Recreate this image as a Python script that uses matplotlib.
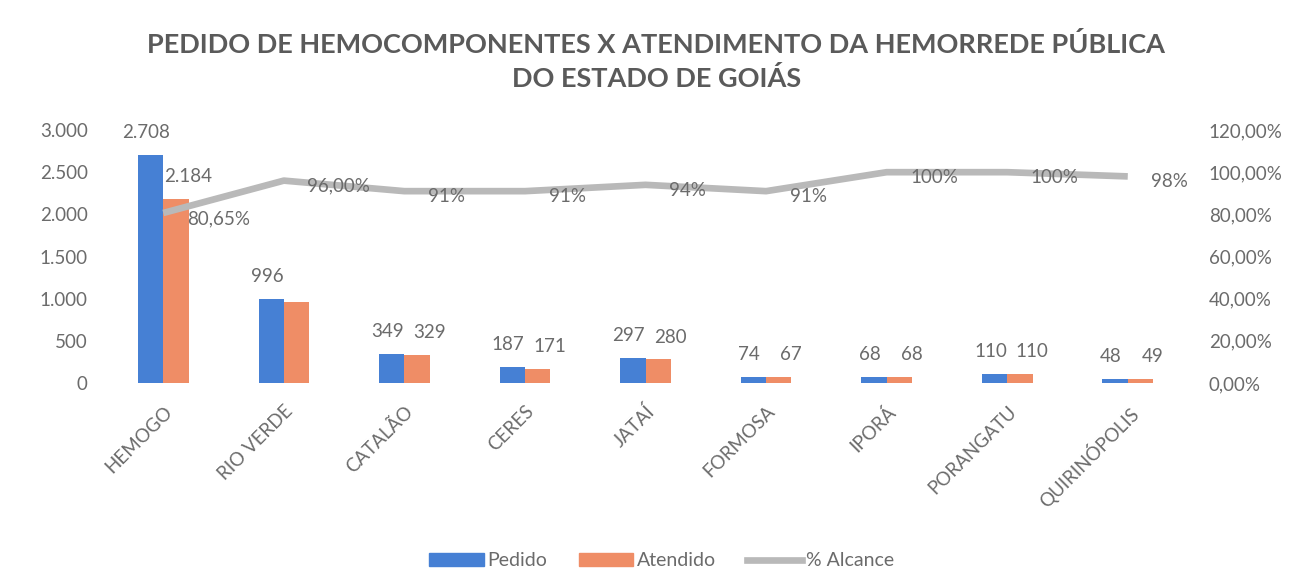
import matplotlib
matplotlib.use("Agg")
import matplotlib.pyplot as plt
import numpy as np
from matplotlib.patches import Patch
from matplotlib.lines import Line2D

categories = ["HEMOGO", "RIO VERDE", "CATALÃO", "CERES", "JATAÍ", "FORMOSA", "IPORÁ", "PORANGATU", "QUIRINÓPOLIS"]
pedido = [2708, 996, 349, 187, 297, 74, 68, 110, 48]
atendido = [2184, 956, 329, 171, 280, 67, 68, 110, 49]
atendido_shown = [True, False, True, True, True, True, True, True, True]
alcance = [0.8065, 0.96, 0.91, 0.91, 0.94, 0.91, 1.00, 1.00, 0.98]
alcance_labels = ["80,65%", "96,00%", "91%", "91%", "94%", "91%", "100%", "100%", "98%"]
left_ticks = [0, 500, 1000, 1500, 2000, 2500, 3000]
right_ticks = [0, 0.2, 0.4, 0.6, 0.8, 1.0, 1.2]

FONT = ["Lato", "DejaVu Sans"]
plt.rcParams['font.family'] = FONT
TXT = "#6b6b6b"
BLUE = "#4680d4"
ORANGE = "#ef8d66"
GREY = "#b9b9b9"
FS = 13.5

def fmt_thousands(v):
    return f"{int(v):,}".replace(",", ".")

fig = plt.figure(figsize=(12.97, 5.71), dpi=100)
ax = fig.add_axes([0.0794, 0.3292, 0.8366, 0.4431])
ax2 = ax.twinx()

x = np.arange(len(categories))
w = 0.21
ax.bar(x - w / 2, pedido, width=w, color=BLUE, zorder=2)
ax.bar(x + w / 2, atendido, width=w, color=ORANGE, zorder=2)

for i in range(len(categories)):
    ax.annotate(fmt_thousands(pedido[i]), (x[i] - w / 2, pedido[i]), xytext=(-3, 10),
                textcoords="offset points", ha="center", va="bottom", fontsize=FS, color=TXT)
    if atendido_shown[i]:
        ax.annotate(fmt_thousands(atendido[i]), (x[i] + w / 2, atendido[i]), xytext=(9, 10),
                    textcoords="offset points", ha="center", va="bottom", fontsize=FS, color=TXT)

ax.set_xlim(-0.5, len(categories) - 0.5)
ax.set_ylim(0, 3000)
ax.set_yticks(left_ticks)
ax.set_yticklabels([fmt_thousands(t) for t in left_ticks])
ax2.set_ylim(0, 1.2)
ax2.set_yticks(right_ticks)
ax2.set_yticklabels([f"{t*100:.2f}%".replace(".", ",") for t in right_ticks])

ax2.plot(x, alcance, color=GREY, lw=4.8, solid_capstyle="butt", zorder=3)
for i, lab in enumerate(alcance_labels):
    ax2.annotate(lab, (x[i], alcance[i]), xytext=(17, -4), textcoords="offset points",
                 ha="left", va="center", fontsize=FS, color=TXT)

for a in (ax, ax2):
    for s in a.spines.values():
        s.set_visible(False)
    a.tick_params(length=0, labelsize=FS, colors=TXT)
ax.tick_params(axis="y", pad=11)
ax2.tick_params(axis="y", pad=15)

ax.set_xticks(x)
ax.set_xticklabels(categories, rotation=45, ha="right", va="top", rotation_mode="anchor")
ax.tick_params(axis="x", pad=14)

fig.text(0.506, 0.892, "PEDIDO DE HEMOCOMPONENTES X ATENDIMENTO DA HEMORREDE PÚBLICA\nDO ESTADO DE GOIÁS",
         ha="center", va="center", fontsize=19.5, fontweight="bold", color="#5a5a5a", linespacing=1.45)

handles = [Patch(color=BLUE), Patch(color=ORANGE), Line2D([], [], color=GREY, lw=4.8)]
fig.legend(handles, ["Pedido", "Atendido", "% Alcance"], loc="center", bbox_to_anchor=(0.51, 0.018),
           ncol=3, frameon=False, fontsize=14, labelcolor=TXT, handlelength=2.8, handleheight=0.6,
           columnspacing=1.6, handletextpad=0.2)

fig.savefig("out.png", dpi=100)
